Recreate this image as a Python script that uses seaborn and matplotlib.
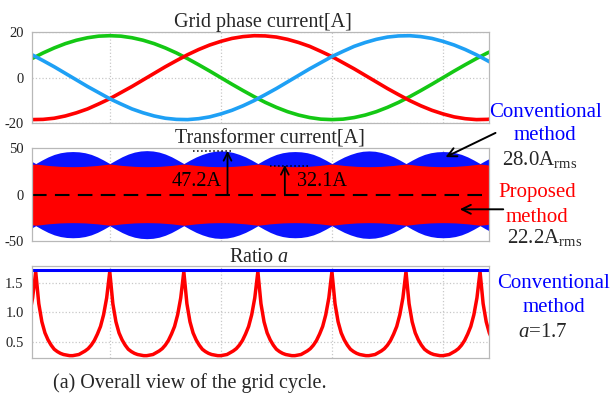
import numpy as np
import pandas as pd
import matplotlib
matplotlib.use("Agg")
import matplotlib.pyplot as plt
import seaborn as sns

# ---------------- data ----------------
# time axis in ms, vertical grid lines every 5 ms
T_PHASE = np.arange(-3.5, 17.75, 0.5)          # 43 samples
PHASE_A = [8.4, 10.9, 13.1, 15.0, 16.5, 17.6, 18.3, 18.5, 18.3, 17.6, 16.5, 15.0, 13.1,
           10.9, 8.4, 5.7, 2.9, 0.0, -2.9, -5.7, -8.4, -10.9, -13.1, -15.0, -16.5, -17.6,
           -18.3, -18.5, -18.3, -17.6, -16.5, -15.0, -13.1, -10.9, -8.4, -5.7, -2.9, 0.0,
           2.9, 5.7, 8.4, 10.9, 13.1]                                            # green
PHASE_B = [-18.5, -18.4, -17.9, -16.9, -15.5, -13.8, -11.6, -9.3, -6.6, -3.9, -1.0, 1.9,
           4.8, 7.5, 10.1, 12.4, 14.4, 16.0, 17.3, 18.1, 18.5, 18.4, 17.9, 16.9, 15.5, 13.8,
           11.6, 9.3, 6.6, 3.9, 1.0, -1.9, -4.8, -7.5, -10.1, -12.4, -14.4, -16.0, -17.3,
           -18.1, -18.5, -18.4, -17.9]                                          # red
PHASE_C = [10.1, 7.5, 4.8, 1.9, -1.0, -3.9, -6.6, -9.3, -11.6, -13.8, -15.5, -16.9, -17.9,
           -18.4, -18.5, -18.1, -17.3, -16.0, -14.4, -12.4, -10.1, -7.5, -4.8, -1.9, 1.0,
           3.9, 6.6, 9.3, 11.6, 13.8, 15.5, 16.9, 17.9, 18.4, 18.5, 18.1, 17.3, 16.0, 14.4,
           12.4, 10.1, 7.5, 4.8]                                                # light blue
PHASE_NAMES = ["a", "b", "c"]
PHASE_COLORS = ["#14c814", "#ff0000", "#1ea0f5"]

# transformer current envelopes (peak of the switching waveform), step = 1/12 sector
T_ENV = np.arange(-13, 63) * (10.0 / 36.0)
CONV_ENV = [37.3,
            33.5, 37.3, 40.7, 43.4, 45.2, 46.2, 46.5, 46.2, 45.2, 43.4, 40.7, 37.3,
            33.5, 37.3, 40.9, 43.8, 45.9, 47.1, 47.5, 47.1, 45.9, 43.8, 40.9, 37.3,
            33.5, 37.3, 40.7, 43.4, 45.5, 46.8, 47.2, 46.8, 45.5, 43.4, 40.7, 37.3,
            33.5, 37.3, 40.7, 43.4, 45.2, 46.2, 46.5, 46.2, 45.2, 43.4, 40.7, 37.3,
            33.5, 37.3, 40.7, 43.4, 45.5, 46.8, 47.2, 46.8, 45.5, 43.4, 40.7, 37.3,
            33.5, 37.3, 40.7, 43.4, 45.2, 46.2, 46.5, 46.2, 45.2, 43.4, 40.7, 37.3,
            33.5, 37.3, 40.7]
PROP_ENV = [32.3,
            33.0, 32.3, 31.5, 31.0, 30.5, 30.3, 30.2, 30.3, 30.5, 31.0, 31.5, 32.3,
            33.0, 32.3, 31.5, 31.0, 30.5, 30.3, 30.2, 30.3, 30.5, 31.0, 31.5, 32.3,
            33.0, 32.3, 31.5, 31.0, 30.5, 30.3, 30.2, 30.3, 30.5, 31.0, 31.5, 32.3,
            33.0, 32.3, 31.5, 31.0, 30.5, 30.3, 30.2, 30.3, 30.5, 31.0, 31.5, 32.3,
            33.0, 32.3, 31.5, 31.0, 30.5, 30.3, 30.2, 30.3, 30.5, 31.0, 31.5, 32.3,
            33.0, 32.3, 31.5, 31.0, 30.5, 30.3, 30.2, 30.3, 30.5, 31.0, 31.5, 32.3,
            33.0, 32.3, 31.5]
PEAK_CONV = 47.2
PEAK_PROP = 32.1

# ratio a (proposed), step = 1/24 sector
T_RATIO = np.arange(-26, 125) * (10.0 / 72.0)
RATIO_PROP = [0.96, 1.25,
              1.70, 1.15, 0.84, 0.65, 0.53, 0.44, 0.37, 0.33, 0.30, 0.28, 0.27, 0.26,
              0.26, 0.27, 0.28, 0.31, 0.34, 0.38, 0.44, 0.52, 0.63, 0.76, 0.96, 1.25,
              1.70, 1.15, 0.84, 0.65, 0.53, 0.44, 0.37, 0.33, 0.30, 0.28, 0.27, 0.26,
              0.26, 0.27, 0.28, 0.31, 0.34, 0.38, 0.44, 0.52, 0.63, 0.76, 0.96, 1.25,
              1.70, 1.15, 0.84, 0.65, 0.53, 0.44, 0.37, 0.33, 0.30, 0.28, 0.27, 0.26,
              0.26, 0.27, 0.28, 0.31, 0.34, 0.38, 0.44, 0.52, 0.63, 0.76, 0.96, 1.25,
              1.70, 1.15, 0.84, 0.65, 0.53, 0.44, 0.37, 0.33, 0.30, 0.28, 0.27, 0.26,
              0.26, 0.27, 0.28, 0.31, 0.34, 0.38, 0.44, 0.52, 0.63, 0.76, 0.96, 1.25,
              1.70, 1.15, 0.84, 0.65, 0.53, 0.44, 0.37, 0.33, 0.30, 0.28, 0.27, 0.26,
              0.26, 0.27, 0.28, 0.31, 0.34, 0.38, 0.44, 0.52, 0.63, 0.76, 0.96, 1.25,
              1.70, 1.15, 0.84, 0.65, 0.53, 0.44, 0.37, 0.33, 0.30, 0.28, 0.27, 0.26,
              0.26, 0.27, 0.28, 0.31, 0.34, 0.38, 0.44, 0.52, 0.63, 0.76, 0.96, 1.25,
              1.70, 1.15, 0.84, 0.65, 0.53]
CONV_A = 1.72

RMS_CONV = "28.0"
RMS_PROP = "22.2"

# ---------------- style ----------------
sns.set_style("white")
plt.rcParams["font.family"] = ["Liberation Serif", "DejaVu Serif"]
plt.rcParams["mathtext.fontset"] = "custom"
plt.rcParams["mathtext.rm"] = "Liberation Serif"
plt.rcParams["mathtext.it"] = "Liberation Serif:italic"
plt.rcParams["axes.unicode_minus"] = False

W, H = 611, 394
fig = plt.figure(figsize=(W / 100, H / 100), dpi=100)


def ax_rect(left, top, right, bottom):
    return [left / W, 1 - bottom / H, (right - left) / W, (bottom - top) / H]


def fx(x):
    return x / W


def fy(y):
    return 1 - y / H


XLIM = (-3.5, 17.07)
GRID_X = [0, 5, 10, 15]
SPINE = "#b8b8b8"
GRIDC = "#c8c8c8"


def style_axes(ax, ylim, yticks, ylabels):
    ax.set_xlim(*XLIM)
    ax.set_ylim(*ylim)
    ax.set_xticks(GRID_X)
    ax.set_xticklabels([])
    ax.set_yticks(yticks)
    ax.set_yticklabels(ylabels)
    ax.tick_params(axis="y", length=0, pad=6, labelsize=10.5, colors="#222222")
    ax.tick_params(axis="x", length=3, color=SPINE, width=0.8, direction="out")
    for s in ax.spines.values():
        s.set_color(SPINE)
        s.set_linewidth(0.9)
    ax.grid(True, color=GRIDC, ls=":", lw=0.9)
    ax.set_axisbelow(True)
    ax.set_xlabel("")
    ax.set_ylabel("")


# ---------------- top: grid phase currents ----------------
ax1 = fig.add_axes(ax_rect(32, 32.3, 489, 123))
df_phase = pd.DataFrame({
    "t": np.concatenate([T_PHASE] * 3),
    "i": PHASE_A + PHASE_B + PHASE_C,
    "phase": sum([[n] * len(T_PHASE) for n in PHASE_NAMES], []),
})
sns.lineplot(data=df_phase, x="t", y="i", hue="phase", palette=PHASE_COLORS,
             lw=2.6, legend=False, ax=ax1, sort=False, estimator=None)
style_axes(ax1, (-20, 20), [-20, 0, 20], ["-20", "0", "20"])

# ---------------- middle: transformer current ----------------
ax2 = fig.add_axes(ax_rect(32, 148.3, 489, 241))
conv = np.array(CONV_ENV)
prop = np.array(PROP_ENV)
ax2.fill_between(T_ENV, -conv, conv, color="#0a14ff", lw=0)
ax2.fill_between(T_ENV, -prop, prop, color="#ff0000", lw=0)
ax2.axhline(0, color="black", lw=1.5, ls=(0, (7, 4)))
style_axes(ax2, (-50, 50), [-50, 0, 50], ["-50", "0", "50"])
ax2.grid(False, axis="y")

# peak arrows
ax2.annotate("", xy=(5.30, PEAK_CONV), xytext=(5.30, 0),
             arrowprops=dict(arrowstyle="->", lw=1.3, color="black", mutation_scale=14,
                             shrinkA=0, shrinkB=0))
ax2.annotate("", xy=(7.88, PEAK_PROP), xytext=(7.88, 0),
             arrowprops=dict(arrowstyle="->", lw=1.3, color="black", mutation_scale=14,
                             shrinkA=0, shrinkB=0))
ax2.plot([3.74, 5.54], [PEAK_CONV, PEAK_CONV], color="black", ls=":", lw=1.1)
ax2.plot([7.21, 8.92], [PEAK_PROP - 1, PEAK_PROP - 1], color="black", ls=":", lw=1.1)
ax2.text(5.05, 8.9, f"{PEAK_CONV}A", ha="right", va="baseline", fontsize=14.5, color="black")
ax2.text(8.42, 8.9, f"{PEAK_PROP}A", ha="left", va="baseline", fontsize=14.5, color="black")

# ---------------- bottom: ratio a ----------------
ax3 = fig.add_axes(ax_rect(32, 265.7, 489, 358))
sns.lineplot(x=T_RATIO, y=RATIO_PROP, color="#ff0000", lw=2.5, ax=ax3,
             sort=False, estimator=None)
ax3.axhline(CONV_A, color="#0000ff", lw=2.2)
style_axes(ax3, (0.22, 1.80), [0.5, 1.0, 1.5], ["0.5", "1.0", "1.5"])

# ---------------- titles ----------------
fig.text(fx(262.5), fy(26.7), "Grid phase current[A]", ha="center", va="baseline", fontsize=14.5)
fig.text(fx(270), fy(143.3), "Transformer current[A]", ha="center", va="baseline", fontsize=14.5)
fig.text(fx(259), fy(261.7), "Ratio $a$", ha="center", va="baseline", fontsize=14.5)
fig.text(fx(53), fy(388), "(a) Overall view of the grid cycle.", ha="left", va="baseline",
         fontsize=14.5)

# ---------------- right annotations ----------------
fig.text(fx(545), fy(116.7), "Conventional", ha="center", va="baseline", fontsize=15, color="#0000ff")
fig.text(fx(545), fy(140), "method", ha="center", va="baseline", fontsize=15, color="#0000ff")
fig.text(fx(540), fy(165), RMS_CONV + "A$_{\\mathrm{rms}}$", ha="center", va="baseline", fontsize=15)
fig.text(fx(537), fy(196.7), "Proposed", ha="center", va="baseline", fontsize=15, color="#ff0000")
fig.text(fx(537), fy(221.7), "method", ha="center", va="baseline", fontsize=15, color="#ff0000")
fig.text(fx(545), fy(243.3), RMS_PROP + "A$_{\\mathrm{rms}}$", ha="center", va="baseline", fontsize=15)
fig.text(fx(553), fy(288.3), "Conventional", ha="center", va="baseline", fontsize=15, color="#0000ff")
fig.text(fx(554), fy(312.3), "method", ha="center", va="baseline", fontsize=15, color="#0000ff")
fig.text(fx(542.5), fy(336.7), f"$a$={CONV_A:.1f}", ha="center", va="baseline", fontsize=15)

fig.add_artist(matplotlib.patches.FancyArrowPatch(
    (fx(498), fy(131.7)), (fx(443), fy(158.3)), transform=fig.transFigure,
    arrowstyle="->", mutation_scale=16, lw=1.4, color="black"))
fig.add_artist(matplotlib.patches.FancyArrowPatch(
    (fx(506), fy(209.3)), (fx(457), fy(209.3)), transform=fig.transFigure,
    arrowstyle="->", mutation_scale=16, lw=1.4, color="black"))

fig.savefig("out.png", dpi=100)
